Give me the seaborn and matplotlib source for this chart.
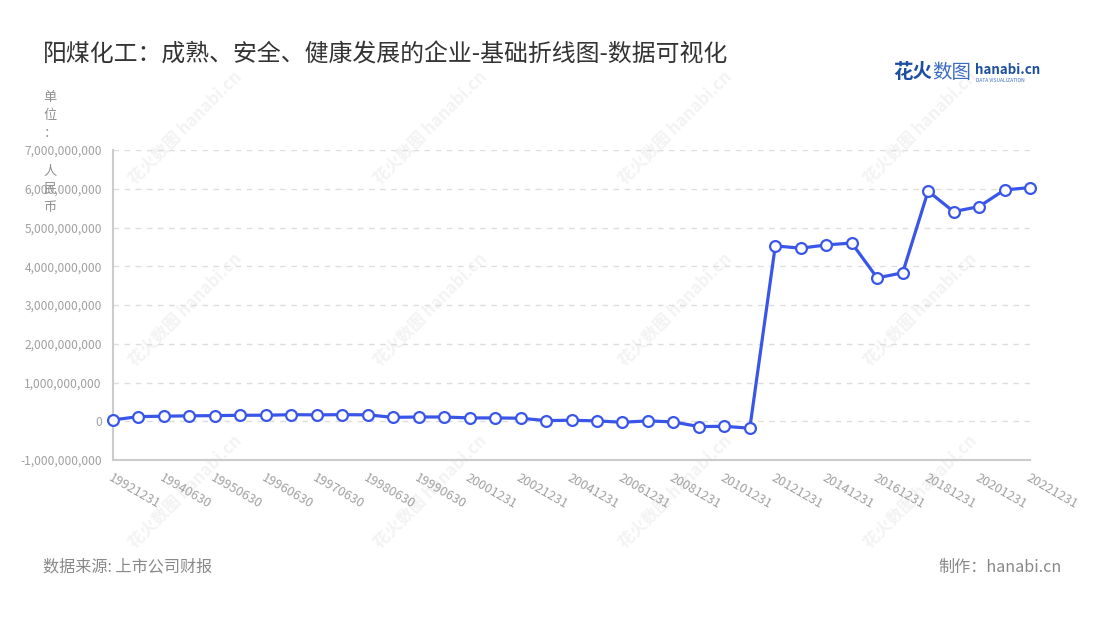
import numpy as np
import pandas as pd
import matplotlib
matplotlib.use("Agg")
import matplotlib.pyplot as plt
from matplotlib.ticker import FuncFormatter, FixedLocator
import seaborn as sns

dates = ["19921231", "19931231", "19940630", "19941231", "19950630", "19951231",
         "19960630", "19961231", "19970630", "19971231", "19980630", "19981231",
         "19990630", "19991231", "20001231", "20011231", "20021231", "20031231",
         "20041231", "20051231", "20061231", "20071231", "20081231", "20091231",
         "20101231", "20111231", "20121231", "20131231", "20141231", "20151231",
         "20161231", "20171231", "20181231", "20191231", "20201231", "20211231",
         "20221231"]
values = [0.034e9, 0.12e9, 0.13e9, 0.14e9, 0.145e9, 0.155e9,
          0.155e9, 0.17e9, 0.165e9, 0.17e9, 0.165e9, 0.10e9,
          0.11e9, 0.11e9, 0.086e9, 0.086e9, 0.078e9, 0.017e9,
          0.026e9, 0.009e9, -0.026e9, 0.009e9, -0.017e9, -0.138e9,
          -0.13e9, -0.18e9, 4.526e9, 4.466e9, 4.55e9, 4.60e9,
          3.70e9, 3.83e9, 5.94e9, 5.41e9, 5.54e9, 5.97e9,
          6.03e9]
yticks = [-1e9, 0, 1e9, 2e9, 3e9, 4e9, 5e9, 6e9, 7e9]
title = "阳煤化工：成熟、安全、健康发展的企业-基础折线图-数据可视化"
unit_label = "单位：人民币"
source = "数据来源: 上市公司财报"
maker = "制作：hanabi.cn"
watermark = "花火数图 hanabi.cn"

sns.set_theme(style="white")
plt.rcParams['font.family'] = ['Noto Sans CJK SC', 'DejaVu Sans']
plt.rcParams['axes.unicode_minus'] = False

df = pd.DataFrame({"pos": np.arange(len(dates)), "value": values})

fig = plt.figure(figsize=(11, 6.2), dpi=100)

# faint watermarks
for wy in [128, 310, 492]:
    for wx in [185, 430, 675, 920]:
        fig.text(wx/1100, 1 - wy/620, watermark, fontsize=12, color="#f3f3f3",
                 fontweight="bold", rotation=45, ha="center", va="center", zorder=-5)

ax = fig.add_axes([113/1100, 1 - 460/620, (1030-113)/1100, (460-150)/620])
ax.patch.set_alpha(0)
ax.set_zorder(2)

line_color = "#3a56e8"
sns.lineplot(data=df, x="pos", y="value", ax=ax, color=line_color, linewidth=2.3,
             marker="o", markersize=7.8, markerfacecolor="white",
             markeredgecolor=line_color, markeredgewidth=1.6, zorder=5, clip_on=False)

ax.set_xlim(0, len(dates) - 1)
ax.set_ylim(yticks[0], yticks[-1])
ax.yaxis.set_major_locator(FixedLocator(yticks))
ax.yaxis.set_major_formatter(FuncFormatter(lambda v, p: f"{int(round(v)):,}"))
tick_pos = list(range(0, len(dates), 2))
ax.set_xticks(tick_pos)
ax.set_xticklabels([dates[i] for i in tick_pos], rotation=-30, ha="left",
                   rotation_mode="anchor")
ax.set_xlabel("")
ax.set_ylabel("")

for y in yticks[1:]:
    ax.axhline(y, color="#dddddd", linestyle=(0, (4, 4)), linewidth=1, zorder=1)

for s in ["top", "right"]:
    ax.spines[s].set_visible(False)
for s in ["left", "bottom"]:
    ax.spines[s].set_color("#cccccc")
    ax.spines[s].set_linewidth(1.5)

ax.tick_params(axis="both", which="both", length=4, width=1, color="#cccccc",
               labelcolor="#a0a0a0")
ax.tick_params(axis="y", pad=4, labelsize=8.6)
ax.tick_params(axis="x", pad=4, labelsize=9.2)

fig.text(43/1100, 1 - 55/620, title, fontsize=17.2, color="#333333", va="center", ha="left")

for i, ch in enumerate(unit_label):
    row = i if i < 3 else i + 1
    fig.text(50/1100, 1 - (97 + row * 18.5) / 620, ch, fontsize=9.5, color="#909090",
             ha="center", va="center", zorder=3)

fig.text(43/1100, 1 - 567/620, source, fontsize=11.6, color="#888888", va="center", ha="left")
fig.text(1062/1100, 1 - 567/620, maker, fontsize=11.6, color="#888888", va="center", ha="right")

fig.text(893/1100, 1 - 73/620, "花火", fontsize=14, color="#1d4fa0",
         fontweight="bold", va="center", ha="left")
fig.text(932/1100, 1 - 73/620, "数图", fontsize=14, color="#3b6cc0",
         va="center", ha="left")
fig.text(975/1100, 1 - 70/620, "hanabi.cn", fontsize=9.6, color="#1d4fa0",
         fontweight="bold", va="center", ha="left")
fig.text(976/1100, 1 - 80/620, "DATA VISUALIZATION", fontsize=3.5, color="#3b6cc0",
         va="center", ha="left")

fig.savefig("out.png", dpi=100)
